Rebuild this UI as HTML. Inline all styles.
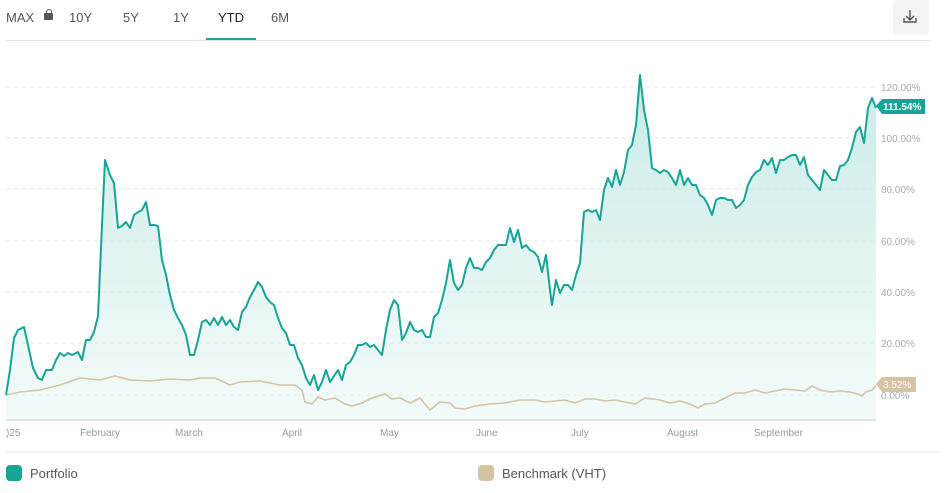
<!DOCTYPE html>
<html><head><meta charset="utf-8"><style>
body{margin:0;width:946px;height:493px;background:#fff;font-family:"Liberation Sans",sans-serif;overflow:hidden;position:relative}
.t{position:absolute;top:10px;font-size:13px;color:#555}
</style></head><body>
<div class="t" style="left:6px">MAX</div>
<div style="position:absolute;left:44px;top:13px;width:9px;height:7px;background:#555;border-radius:1px"></div>
<div style="position:absolute;left:45.5px;top:9px;width:4px;height:5px;border:1.5px solid #555;border-bottom:none;border-radius:3px 3px 0 0"></div>
<div class="t" style="left:69px">10Y</div>
<div class="t" style="left:123px">5Y</div>
<div class="t" style="left:173px">1Y</div>
<div class="t" style="left:218px;color:#222">YTD</div>
<div class="t" style="left:271px">6M</div>
<div style="position:absolute;left:206px;top:38px;width:50px;height:2px;background:#1aa79a"></div>
<div style="position:absolute;left:6px;top:40px;width:925px;height:1px;background:#e4e4e4"></div>
<div style="position:absolute;left:893px;top:0;width:36px;height:34px;background:#f4f4f4;border-radius:3px"></div>
<svg style="position:absolute;left:0;top:0" width="946" height="493">
<g stroke="#555" stroke-width="1.4" fill="none"><path d="M910 10v10M906 16l4 4 4-4M904 18v4h12v-4"/></g>
<defs><linearGradient id="g" x1="0" y1="0" x2="0" y2="1"><stop offset="0" stop-color="#b9e6e1" stop-opacity=".8"/><stop offset="1" stop-color="#e6f6f4" stop-opacity=".5"/></linearGradient></defs>
<g stroke="#e6e6e6" stroke-dasharray="4,4"><line x1="6" x2="874" y1="87" y2="87"/><line x1="6" x2="874" y1="138" y2="138"/><line x1="6" x2="874" y1="189" y2="189"/><line x1="6" x2="874" y1="241" y2="241"/><line x1="6" x2="874" y1="292" y2="292"/><line x1="6" x2="874" y1="343" y2="343"/><line x1="6" x2="874" y1="395" y2="395"/></g>
<polygon fill="url(#g)" points="6,420 6,395 10,370 14,338 18,330 24,327 28,345 33,368 38,378 42,380 46,370 52,370 56,360 60,353 64,356 68,353 72,355 78,352 82,360 86,340 90,340 94,332 98,316 102,225 105,160 110,175 114,183 118,228 122,226 126,222 130,228 134,215 138,212 142,210 146,202 150,225 154,225 158,226 162,260 166,275 170,295 174,310 178,318 182,325 186,335 190,355 194,355 198,340 202,322 206,320 210,325 214,318 218,325 222,317 226,325 230,320 234,327 238,330 242,312 246,307 250,297 254,290 258,282 262,287 266,297 270,302 274,305 278,318 282,328 286,333 290,345 294,345 298,358 302,365 306,378 310,385 314,375 318,390 322,382 326,370 330,382 334,376 338,370 342,380 346,365 350,362 354,355 358,345 362,345 366,343 370,347 374,345 378,350 382,355 386,330 390,310 394,300 398,305 402,340 406,333 410,322 414,330 418,332 422,330 426,337 430,337 434,317 438,313 442,300 446,283 450,260 454,283 458,290 462,285 466,268 470,258 474,268 478,268 482,270 486,262 490,258 494,250 498,245 502,245 506,245 510,228 514,242 518,230 522,248 526,245 530,250 534,252 538,257 542,272 546,255 550,290 552,305 556,280 560,293 564,285 568,285 572,290 576,275 580,263 584,212 588,210 592,212 596,210 600,220 604,190 608,178 612,187 616,170 620,185 624,172 628,150 632,145 636,125 640,75 644,110 648,130 652,168 656,170 660,173 664,170 668,172 672,178 676,185 680,170 684,185 688,178 692,185 696,185 700,195 704,198 708,205 712,215 716,200 720,198 724,198 728,200 732,200 736,208 740,205 744,200 748,185 752,177 756,172 760,170 764,160 768,165 772,158 776,173 780,160 784,160 788,157 792,155 796,155 800,165 804,157 808,175 812,180 816,185 820,190 824,170 828,175 832,180 836,180 840,166 844,165 848,160 852,148 856,132 860,127 864,143 868,108 872,98 876,108 876,420"/>
<line x1="6" x2="876" y1="420" y2="420" stroke="#ddd" stroke-width="1.5"/>
<polyline fill="none" stroke="#d5c3a5" stroke-width="1.6" points="6,395 20,392 40,390 60,385 80,378 100,380 115,376 130,380 150,381 170,379 190,380 200,378 215,378 230,385 240,382 260,381 280,385 295,385 302,390 305,402 312,404 318,397 325,400 335,398 345,404 352,406 362,403 372,398 385,394 392,399 400,398 410,403 420,398 430,410 440,402 450,403 455,408 465,409 475,406 490,404 505,403 520,400 535,400 545,402 555,401 565,400 575,403 585,399 595,399 605,401 615,400 625,402 635,404 645,398 660,400 670,403 680,401 690,404 698,408 705,404 715,403 725,398 735,393 745,393 755,390 765,393 775,391 785,389 795,390 805,391 812,386 820,390 830,392 840,391 850,392 858,394 862,396 866,392 872,390 876,386"/>
<polyline fill="none" stroke="#17a497" stroke-width="2" stroke-linejoin="round" points="6,395 10,370 14,338 18,330 24,327 28,345 33,368 38,378 42,380 46,370 52,370 56,360 60,353 64,356 68,353 72,355 78,352 82,360 86,340 90,340 94,332 98,316 102,225 105,160 110,175 114,183 118,228 122,226 126,222 130,228 134,215 138,212 142,210 146,202 150,225 154,225 158,226 162,260 166,275 170,295 174,310 178,318 182,325 186,335 190,355 194,355 198,340 202,322 206,320 210,325 214,318 218,325 222,317 226,325 230,320 234,327 238,330 242,312 246,307 250,297 254,290 258,282 262,287 266,297 270,302 274,305 278,318 282,328 286,333 290,345 294,345 298,358 302,365 306,378 310,385 314,375 318,390 322,382 326,370 330,382 334,376 338,370 342,380 346,365 350,362 354,355 358,345 362,345 366,343 370,347 374,345 378,350 382,355 386,330 390,310 394,300 398,305 402,340 406,333 410,322 414,330 418,332 422,330 426,337 430,337 434,317 438,313 442,300 446,283 450,260 454,283 458,290 462,285 466,268 470,258 474,268 478,268 482,270 486,262 490,258 494,250 498,245 502,245 506,245 510,228 514,242 518,230 522,248 526,245 530,250 534,252 538,257 542,272 546,255 550,290 552,305 556,280 560,293 564,285 568,285 572,290 576,275 580,263 584,212 588,210 592,212 596,210 600,220 604,190 608,178 612,187 616,170 620,185 624,172 628,150 632,145 636,125 640,75 644,110 648,130 652,168 656,170 660,173 664,170 668,172 672,178 676,185 680,170 684,185 688,178 692,185 696,185 700,195 704,198 708,205 712,215 716,200 720,198 724,198 728,200 732,200 736,208 740,205 744,200 748,185 752,177 756,172 760,170 764,160 768,165 772,158 776,173 780,160 784,160 788,157 792,155 796,155 800,165 804,157 808,175 812,180 816,185 820,190 824,170 828,175 832,180 836,180 840,166 844,165 848,160 852,148 856,132 860,127 864,143 868,108 872,98 876,108"/>
<g font-size="10" fill="#aaa" font-family="Liberation Sans,sans-serif"><text x="881" y="91">120.00%</text><text x="881" y="142">100.00%</text><text x="881" y="193">80.00%</text><text x="881" y="245">60.00%</text><text x="881" y="296">40.00%</text><text x="881" y="347">20.00%</text><text x="881" y="399">0.00%</text></g>
<path d="M876 106l6-7h43v15h-43z" fill="#17a497"/><text x="883" y="110" font-size="10" font-weight="bold" fill="#fff" font-family="Liberation Sans,sans-serif">111.54%</text>
<path d="M876 384l6-7h34v15h-34z" fill="#d5c3a5"/><text x="883" y="388" font-size="10" fill="#fff" font-family="Liberation Sans,sans-serif">3.52%</text>
<g font-size="10" fill="#999" font-family="Liberation Sans,sans-serif"><text x="6" y="436">)25</text><text x="80" y="436">February</text><text x="175" y="436">March</text><text x="282" y="436">April</text><text x="380" y="436">May</text><text x="476" y="436">June</text><text x="571" y="436">July</text><text x="667" y="436">August</text><text x="754" y="436">September</text></g>
<line x1="6" x2="940" y1="452" y2="452" stroke="#e8e8e8"/>
<rect x="6" y="465" width="16" height="16" rx="4" fill="#17a497"/><text x="30" y="478" font-size="13" fill="#555" font-family="Liberation Sans,sans-serif">Portfolio</text>
<rect x="478" y="465" width="16" height="16" rx="4" fill="#d5c3a5"/><text x="502" y="478" font-size="13" fill="#555" font-family="Liberation Sans,sans-serif">Benchmark (VHT)</text>
</svg>
</body></html>
